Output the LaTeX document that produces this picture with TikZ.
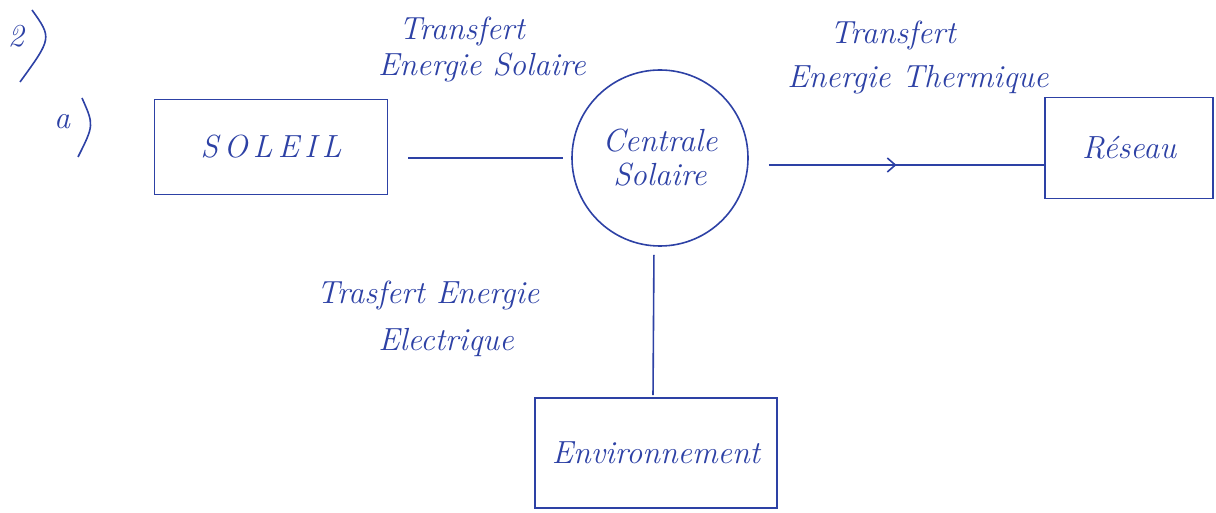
\documentclass[tikz,border=0pt]{standalone}
\usetikzlibrary{arrows.meta,decorations.markings,calc}
\definecolor{ink}{RGB}{45,65,165}
\begin{document}
\begin{tikzpicture}[x=1pt,y=-1pt,
  every node/.style={text=ink},
  hand/.style={font=\fontsize{32}{38}\selectfont\itshape},
  boxnode/.style={draw=ink, line width=1.6pt, rectangle, inner sep=0pt, hand},
  link/.style={draw=ink, line width=1.6pt},
  midarrow/.style={postaction={decorate},decoration={markings,
     mark=at position 0.5 with {\arrow{Straight Barb[length=8pt,width=14pt,line width=1.6pt]}}}}]
\useasboundingbox (0,0) rectangle (1216,513);
% numbering
\node[hand] (num) at (16,36) {2};
\draw[link] (32,10) .. controls (52,38) .. (20,82);
\node[hand] (sub) at (62,122) {a};
\draw[link] (82,98) .. controls (94,125) .. (78,157);
% boxes
\node[boxnode, minimum width=233pt, minimum height=95pt] (soleil) at (271,147) {S\,O\,L\,E\,I\,L};
\node[circle, draw=ink, line width=1.6pt, minimum size=176pt, inner sep=0pt, hand, align=center] (centrale) at (660,158) {Centrale\\[-4pt]Solaire};
\node[boxnode, minimum width=168pt, minimum height=101pt] (reseau) at (1129,148) {Réseau};
\node[boxnode, minimum width=242pt, minimum height=110pt] (env) at (656,453) {Environnement};
% connectors
\draw[link, shorten <=20pt, shorten >=8pt] (soleil.east |- centrale.west) -- (centrale.west);
\draw[link, midarrow, shorten <=20pt] ($(centrale.east)+(0,7)$) -- (reseau.west |- {$(centrale.east)+(0,7)$});
\draw[link, shorten <=8pt, shorten >=2pt] ($(centrale.south)+(-6,0)$) -- ($(env.north)+(-3,0)$);
% labels
\node[hand] (l1a) at (462,32) {Transfert};
\node[hand] (l1b) at (482,68) {Energie Solaire};
\node[hand] (l2a) at (893,36) {Transfert};
\node[hand] (l2b) at (918,80) {Energie Thermique};
\node[hand] (l3a) at (428,295) {Trasfert Energie};
\node[hand] (l3b) at (446,342) {Electrique};
\end{tikzpicture}
\end{document}
